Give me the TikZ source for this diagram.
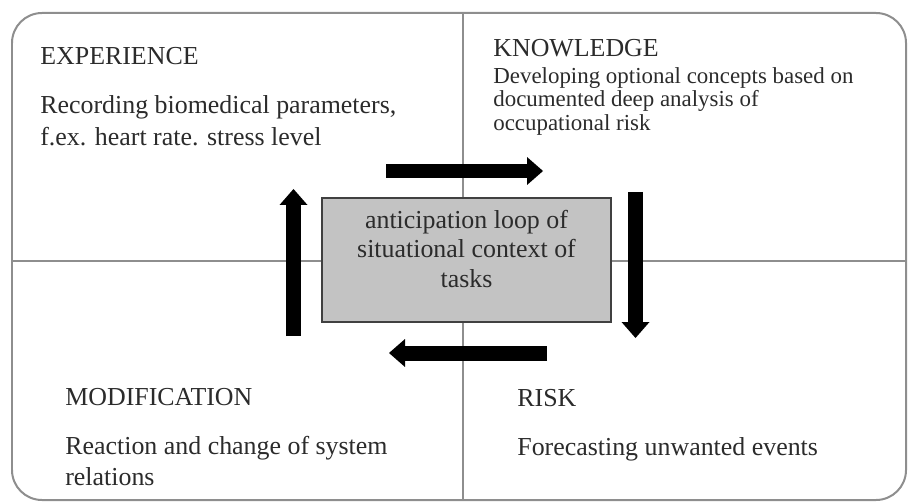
\documentclass[tikz,border=0pt]{standalone}
\usepackage{fontspec}
\setmainfont{Liberation Serif}
\usepackage{tikz}
\usetikzlibrary{arrows.meta, positioning}
\definecolor{framegray}{HTML}{8E8E8E}
\definecolor{boxgray}{HTML}{C3C3C3}
\definecolor{inkgray}{HTML}{2B2B2B}
\tikzstyle{frame} = [draw=framegray, line width=0.04cm]
\tikzstyle{divider} = [draw=framegray, line width=0.035cm]
\tikzstyle{heading} = [anchor=base west, inner sep=0, text=inkgray, font=\fontsize{14.74}{18}\selectfont]
\tikzstyle{body} = [anchor=north west, inner sep=0, align=left, text=inkgray, font=\fontsize{14.74}{18.1}\selectfont]
\tikzstyle{loopbox} = [draw=black!75, fill=boxgray, line width=0.04cm, minimum width=5.78cm, minimum height=2.48cm, inner sep=0]
\tikzstyle{looptext} = [align=center, inner sep=0, text=inkgray, font=\fontsize{14.74}{17}\selectfont]
\tikzstyle{arrow} = [line width=0.3cm, -{Triangle[length=0.32cm, width=0.56cm, line width=0pt]}]

\begin{document}
\begin{tikzpicture}[x=0.02cm, y=-0.02cm]
    \useasboundingbox (0,0) rectangle (909,503);
    % frame and quadrants
    \draw[frame, rounded corners=0.6cm] (12,13) rectangle (906,500);
    \draw[divider] (463,13) -- (463,500);
    \draw[divider] (12,261) -- (906,261);
    % centre box
    \node[loopbox] (loop) at (466.5,260) {};
    \node[looptext] (looptxt) at ([yshift=0.22cm]loop.center) {anticipation loop of\\situational context of\\tasks};
    % quadrant texts
    \node[heading] (exphead) at (40,65) {EXPERIENCE};
    \node[body] (expbody) at (40,95.2) {Recording biomedical parameters,\\f.ex. heart rate. stress level};
    \node[heading] (knowhead) at (493,57) {KNOWLEDGE};
    \node[body, font=\fontsize{13.04}{13.3}\selectfont] (knowbody) at (493,67.3) {Developing optional concepts based on\\documented deep analysis of\\occupational risk};
    \node[heading] (modhead) at (65,405) {MODIFICATION};
    \node[body, font=\fontsize{14.74}{17.6}\selectfont] (modbody) at (65,436.2) {Reaction and change of system\\relations};
    \node[heading] (riskhead) at (517,406) {RISK};
    \node[body] (riskbody) at (517,437.2) {Forecasting unwanted events};
    % loop arrows
    \coordinate (exp2know) at (386,171);
    \coordinate (know) at (543,171);
    \coordinate (know2risk) at (635.5,192);
    \coordinate (risk) at (635.5,338);
    \coordinate (risk2mod) at (547,353);
    \coordinate (mod) at (389,353);
    \coordinate (mod2exp) at (293.5,336);
    \coordinate (exp) at (293.5,189);
    \draw[arrow] (exp2know) -- (know);
    \draw[arrow] (know2risk) -- (risk);
    \draw[arrow] (risk2mod) -- (mod);
    \draw[arrow] (mod2exp) -- (exp);
\end{tikzpicture}
\end{document}
